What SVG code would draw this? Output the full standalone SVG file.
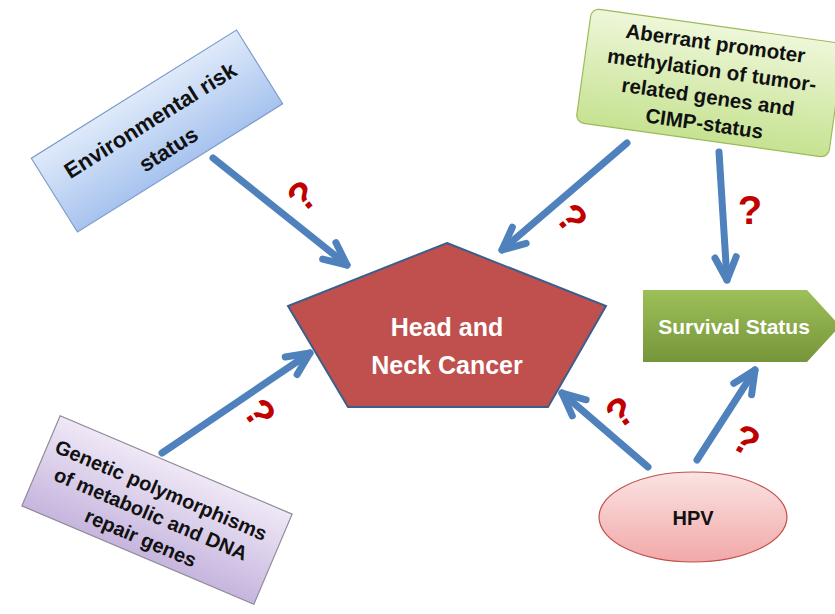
<svg xmlns="http://www.w3.org/2000/svg" width="835" height="614" viewBox="0 0 835 614">
<defs>
<linearGradient id="gEnv" x1="0" y1="0" x2="0" y2="1"><stop offset="0" stop-color="#dfeafa"/><stop offset="1" stop-color="#a7c3ee"/></linearGradient>
<linearGradient id="gAbr" x1="0" y1="0" x2="0" y2="1"><stop offset="0" stop-color="#eef7d9"/><stop offset="1" stop-color="#c6e291"/></linearGradient>
<linearGradient id="gGen" x1="0" y1="0" x2="0" y2="1"><stop offset="0" stop-color="#efe8f6"/><stop offset="1" stop-color="#c6b5de"/></linearGradient>
<linearGradient id="gSur" x1="0" y1="0" x2="0" y2="1"><stop offset="0" stop-color="#9dc059"/><stop offset="1" stop-color="#76953a"/></linearGradient>
<linearGradient id="gHpv" x1="0" y1="0" x2="0" y2="1"><stop offset="0" stop-color="#fbe3e3"/><stop offset="1" stop-color="#f2a8a8"/></linearGradient>
<marker id="ah" markerUnits="userSpaceOnUse" markerWidth="40" markerHeight="40" refX="0" refY="0" orient="auto" overflow="visible">
<path d="M-22.7,-10.6 L0,0 L-22.7,10.6" fill="none" stroke="#4f81bd" stroke-width="7" stroke-linecap="round" stroke-linejoin="round"/>
</marker>
<style>
.lbl{font-family:"Liberation Sans",Arial,sans-serif;font-weight:bold;text-anchor:middle}
.dark{fill:#111}
.white{fill:#ffffff}
.q{font-family:"Liberation Sans",Arial,sans-serif;font-weight:bold;font-size:40px;fill:#c00000;text-anchor:middle}
.arr{fill:none;stroke:#4f81bd;stroke-width:7;stroke-linecap:round;marker-end:url(#ah)}
</style>
</defs>
<rect width="835" height="614" fill="#ffffff"/>

<g id="connectors">
<line class="arr" x1="213" y1="158" x2="347" y2="265"/>
<line class="arr" x1="627" y1="143" x2="502" y2="250"/>
<line class="arr" x1="719" y1="152" x2="727" y2="280"/>
<line class="arr" x1="162" y1="453" x2="310" y2="353"/>
<line class="arr" x1="648" y1="467" x2="562" y2="393"/>
<line class="arr" x1="697" y1="460" x2="755" y2="370"/>
</g>

<g id="questions">
<text class="q" transform="translate(302,196) rotate(-40)" x="0" y="14">?</text>
<text class="q" transform="translate(572,218) rotate(50)" x="0" y="14">?</text>
<text class="q" transform="translate(750,210) rotate(0)" x="0" y="14">?</text>
<text class="q" transform="translate(260,413) rotate(55)" x="0" y="14">?</text>
<text class="q" transform="translate(620,412) rotate(-35)" x="0" y="14">?</text>
<text class="q" transform="translate(746,440) rotate(30)" x="0" y="14">?</text>
</g>

<g id="env" transform="translate(157,131) rotate(-32)">
<rect x="-121" y="-43.5" width="242" height="87" fill="url(#gEnv)" stroke="#7d9ccb" stroke-width="1.2"/>
<text class="lbl dark" font-size="22" x="0" y="-5">Environmental risk</text>
<text class="lbl dark" font-size="22" x="0" y="29">status</text>
</g>

<g id="aberrant" transform="translate(710,83) rotate(8)">
<rect x="-127.5" y="-57.5" width="255" height="115" rx="8" fill="url(#gAbr)" stroke="#9bbb59" stroke-width="1.2"/>
<text class="lbl dark" font-size="20.5" x="0" y="-33">Aberrant promoter</text>
<text class="lbl dark" font-size="20.5" x="0" y="-6">methylation of tumor-</text>
<text class="lbl dark" font-size="20.5" x="0" y="21">related genes and</text>
<text class="lbl dark" font-size="20.5" x="0" y="48">CIMP-status</text>
</g>

<g id="genetic" transform="translate(157,510) rotate(23)">
<rect x="-126" y="-49" width="252" height="98" fill="url(#gGen)" stroke="#8e8a96" stroke-width="1.2"/>
<text class="lbl dark" font-size="20" x="-4" y="-13">Genetic polymorphisms</text>
<text class="lbl dark" font-size="20" x="-4" y="13">of metabolic and DNA</text>
<text class="lbl dark" font-size="20" x="-4" y="39">repair genes</text>
</g>

<g id="hnc">
<polygon points="447,243 606,306 548,407 348,407 288,306" fill="#c0504d" stroke="#3b5f8c" stroke-width="2"/>
<text class="lbl white" font-size="25" x="447" y="336">Head and</text>
<text class="lbl white" font-size="25" x="447" y="374">Neck Cancer</text>
</g>

<g id="survival">
<polygon points="643,290 807,290 840,326 807,362 643,362" fill="url(#gSur)"/>
<text class="lbl white" font-size="21" x="734" y="334">Survival Status</text>
</g>

<g id="hpv">
<ellipse cx="693" cy="517" rx="94" ry="45" fill="url(#gHpv)" stroke="#c0504d" stroke-width="1.2"/>
<text class="lbl dark" font-size="20" x="693" y="525">HPV</text>
</g>
</svg>
